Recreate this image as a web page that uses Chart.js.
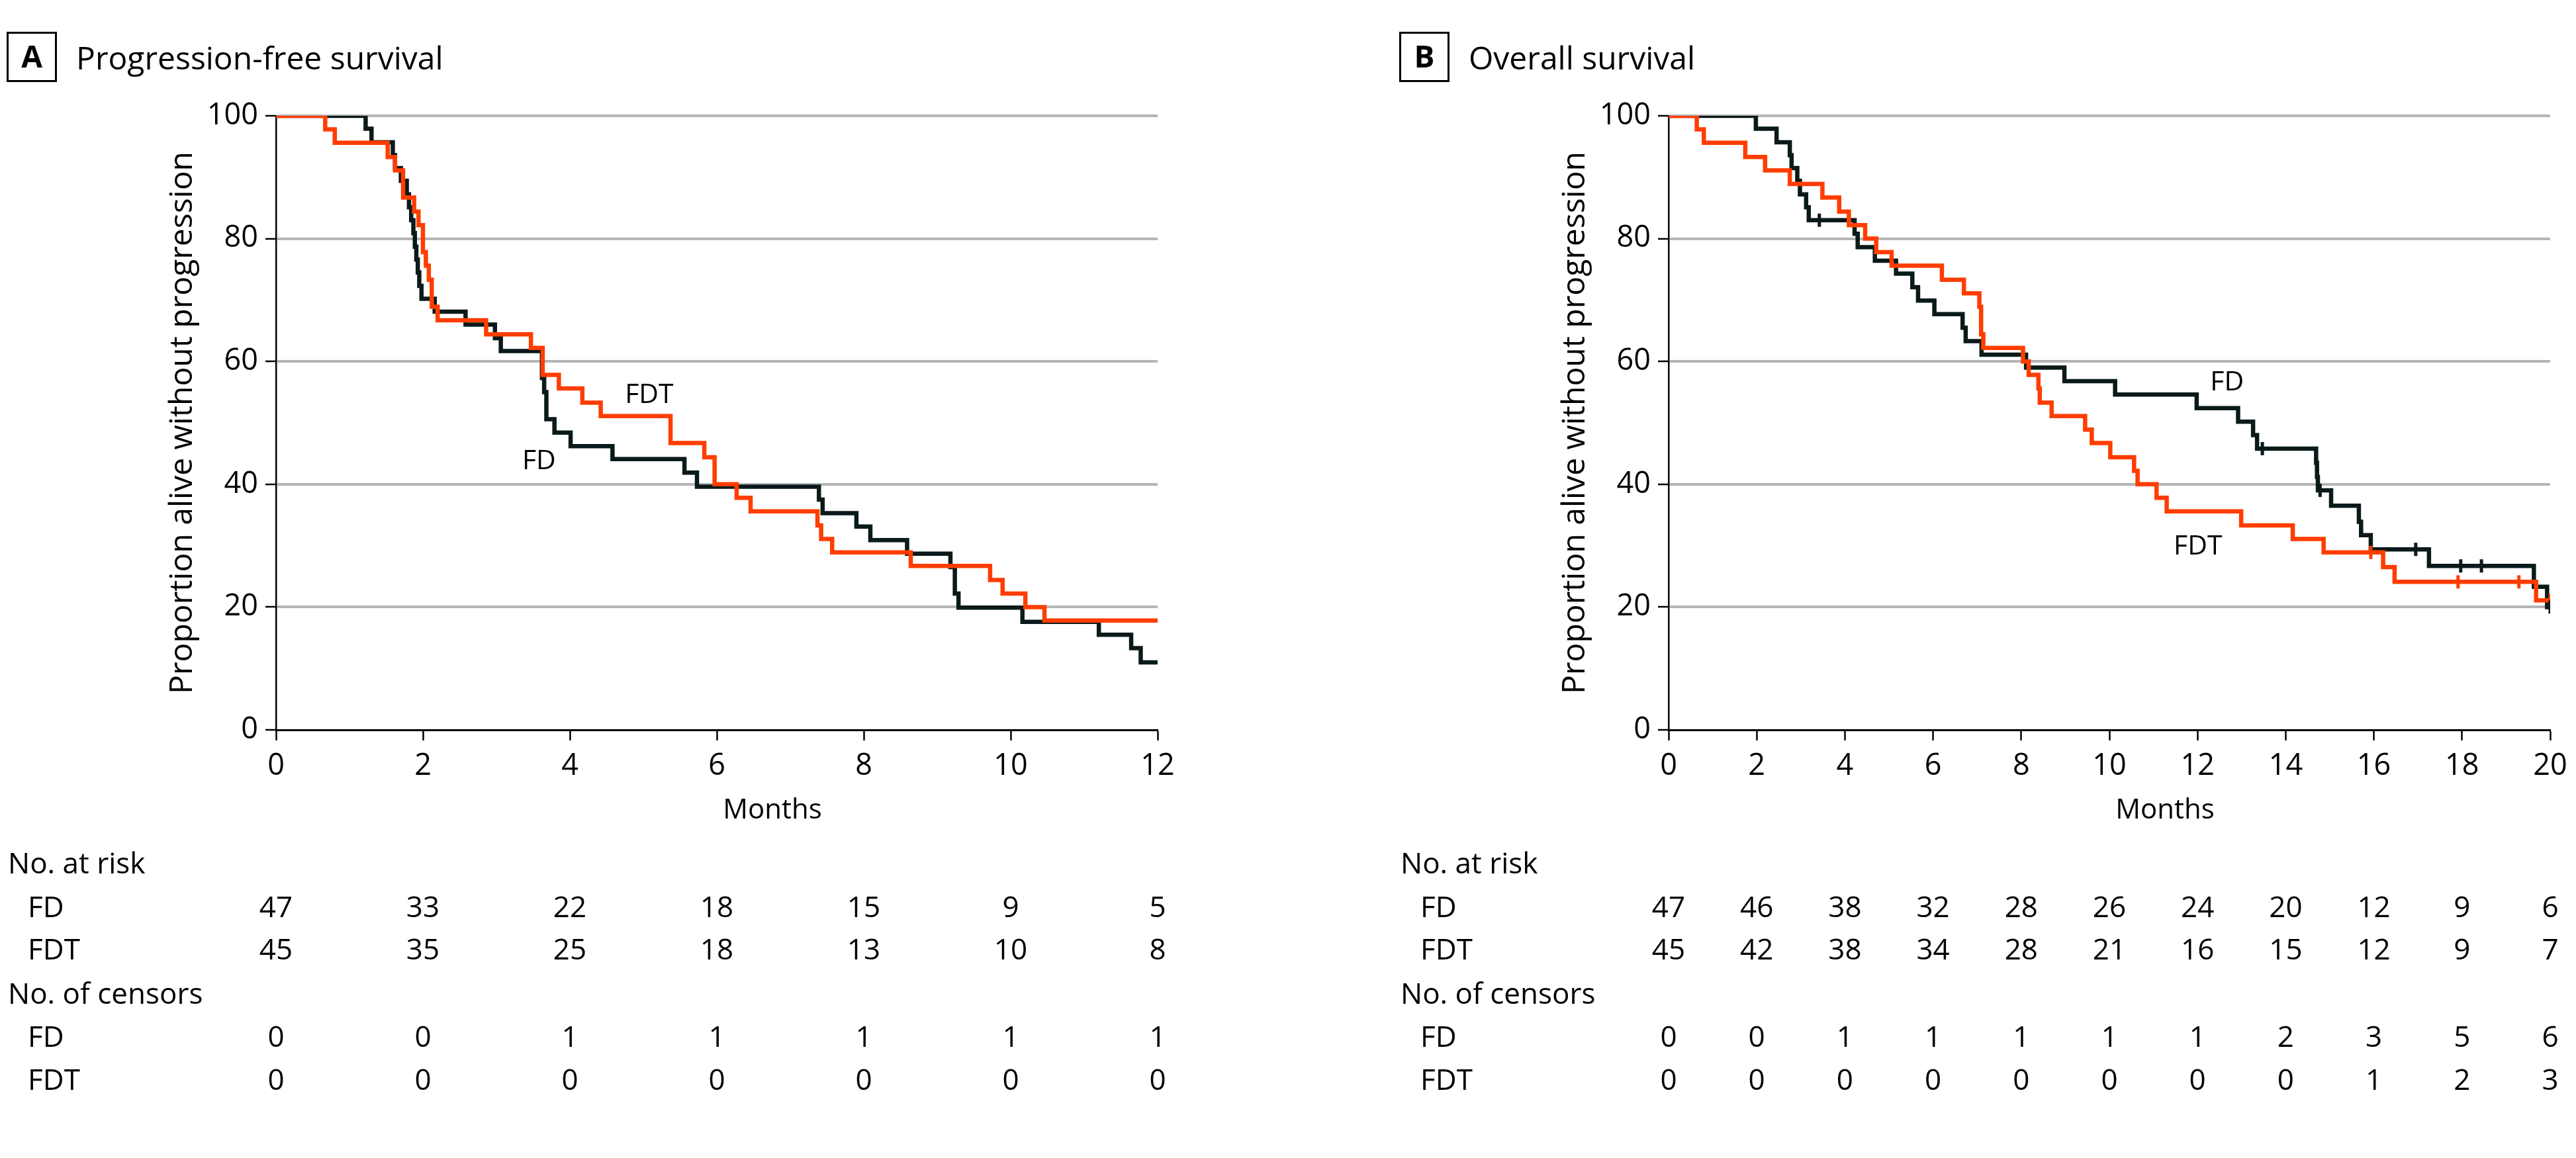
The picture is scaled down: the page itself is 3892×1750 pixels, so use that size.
<!DOCTYPE html>
<html><head><meta charset="utf-8">
<script src="https://cdn.jsdelivr.net/npm/chart.js@4.4.1/dist/chart.umd.min.js"></script>
<style>
html,body{margin:0;padding:0;background:#fff;}
#wrap{position:relative;width:3892px;height:1750px;overflow:hidden;background:#fff;}
canvas{position:absolute;top:0;}
#cA{left:0;width:2104px;height:1750px;}
#cB{left:2104px;width:1788px;height:1750px;}
</style></head><body>
<div id="wrap"><canvas id="cA" width="2104" height="1750"></canvas><canvas id="cB" width="1788" height="1750"></canvas></div>
<script>
// ---------- DATA ----------
// Panel A: progression-free survival (months, % alive without progression)
const pfsTicks = [0, 2, 4, 6, 8, 10, 12];
const pfsFD_t = [0, 1.22, 1.30, 1.59, 1.62, 1.70, 1.78, 1.81, 1.84, 1.87, 1.89, 1.91, 1.93, 1.95, 1.98, 2.16, 2.58, 2.98, 3.06, 3.62, 3.65, 3.68, 3.79, 4.01, 4.58, 5.56, 5.73, 7.39, 7.44, 7.90, 8.09, 8.59, 9.18, 9.24, 9.29, 10.16, 11.20, 11.64, 11.77, 12];
const pfsFD_s = [100, 97.9, 95.7, 93.6, 91.5, 89.4, 87.2, 85.1, 83.0, 80.9, 78.7, 76.6, 74.5, 72.3, 70.2, 68.1, 66.0, 63.8, 61.7, 57.3, 55.0, 50.6, 48.4, 46.2, 44.1, 41.9, 39.6, 37.5, 35.3, 33.1, 30.9, 28.7, 26.5, 22.2, 19.9, 17.6, 15.5, 13.3, 11.0, 11.0];
const pfsFDT_t = [0, 0.67, 0.80, 1.52, 1.62, 1.73, 1.88, 1.94, 2.00, 2.04, 2.08, 2.12, 2.20, 2.86, 3.47, 3.63, 3.85, 4.17, 4.42, 5.37, 5.83, 5.97, 6.27, 6.46, 7.37, 7.42, 7.57, 8.64, 9.72, 9.89, 10.20, 10.46, 12];
const pfsFDT_s = [100, 97.8, 95.6, 93.3, 91.1, 86.7, 84.4, 82.2, 77.8, 75.6, 73.3, 68.9, 66.7, 64.4, 62.2, 57.8, 55.6, 53.3, 51.1, 46.7, 44.4, 40.0, 37.8, 35.6, 33.3, 31.1, 28.9, 26.7, 24.4, 22.2, 20.0, 17.8, 17.8];
const pfsRiskFD = [47, 33, 22, 18, 15, 9, 5];
const pfsRiskFDT = [45, 35, 25, 18, 13, 10, 8];
const pfsCensFD = [0, 0, 1, 1, 1, 1, 1];
const pfsCensFDT = [0, 0, 0, 0, 0, 0, 0];

// Panel B: overall survival
const osTicks = [0, 2, 4, 6, 8, 10, 12, 14, 16, 18, 20];
const osFD_t = [0, 1.98, 2.45, 2.75, 2.79, 2.92, 2.98, 3.12, 3.18, 4.22, 4.29, 4.68, 5.16, 5.53, 5.66, 6.03, 6.67, 6.74, 7.10, 8.11, 8.98, 10.13, 11.98, 12.92, 13.26, 13.35, 14.69, 14.71, 14.73, 15.03, 15.66, 15.71, 15.93, 17.25, 19.63, 19.93, 20];
const osFD_s = [100, 97.9, 95.7, 93.6, 91.5, 89.4, 87.2, 85.1, 83.0, 80.8, 78.6, 76.4, 74.3, 72.1, 69.9, 67.7, 65.5, 63.3, 61.1, 59.0, 56.8, 54.6, 52.4, 50.2, 48.0, 45.8, 43.5, 41.2, 39.0, 36.5, 33.9, 31.7, 29.4, 26.7, 23.3, 20.0, 20.0];
const osFD_censor = [3.42, 13.47, 14.78, 16.95, 17.97, 18.44, 20.0];
const osFDT_t = [0, 0.64, 0.80, 1.74, 2.19, 2.75, 3.49, 3.87, 4.09, 4.46, 4.71, 5.06, 6.20, 6.70, 7.05, 7.09, 7.14, 8.04, 8.17, 8.39, 8.42, 8.69, 9.45, 9.60, 10.02, 10.56, 10.64, 11.07, 11.30, 12.99, 14.16, 14.86, 16.21, 16.47, 19.68, 20];
const osFDT_s = [100, 97.8, 95.6, 93.3, 91.1, 88.9, 86.7, 84.4, 82.2, 80.0, 77.8, 75.6, 73.3, 71.1, 68.9, 64.4, 62.2, 60.0, 57.8, 55.6, 53.3, 51.1, 48.9, 46.7, 44.4, 42.2, 40.0, 37.8, 35.6, 33.3, 31.1, 28.9, 26.5, 24.1, 21.1, 21.1];
const osFDT_censor = [15.93, 17.91, 19.29, 20.0];
const osRiskFD = [47, 46, 38, 32, 28, 26, 24, 20, 12, 9, 6];
const osRiskFDT = [45, 42, 38, 34, 28, 21, 16, 15, 12, 9, 7];
const osCensFD = [0, 0, 1, 1, 1, 1, 1, 2, 3, 5, 6];
const osCensFDT = [0, 0, 0, 0, 0, 0, 0, 0, 1, 2, 3];

const yTicks = [0, 20, 40, 60, 80, 100];

// ---------- STYLE ----------
const FONT = "'Open Sans', 'Noto Sans', 'DejaVu Sans', sans-serif";
const W = 500;
const COL_FD = '#0a1a1a';
const COL_FDT = '#ff3d00';
const GRID = '#b5b5b5';

function toPts(ts, ss) { return ts.map((t, i) => ({ x: t, y: ss[i] })); }
function levelAt(ts, ss, t) { let v = ss[0]; for (let i = 0; i < ts.length; i++) if (ts[i] <= t) v = ss[i]; return v; }
function censorPts(ts, ss, cs) { return cs.map(t => ({ x: t, y: levelAt(ts, ss, t) })); }

const decor = {
  id: 'kmDecor',
  afterDraw(chart, args, o) {
    const ctx = chart.ctx, xs = chart.scales.x, ys = chart.scales.y, ca = chart.chartArea;
    ctx.save();
    ctx.fillStyle = '#000'; ctx.strokeStyle = '#000';
    // panel letter box + title
    ctx.lineWidth = 3;
    ctx.strokeRect(11.5, 49.5, 73, 73);
    ctx.font = `bold 46px ${FONT}`; ctx.textAlign = 'center'; ctx.textBaseline = 'alphabetic';
    ctx.fillText(o.letter, 48, 102);
    ctx.font = `${W} 48px ${FONT}`; ctx.textAlign = 'left';
    ctx.fillText(o.title, 115, 105);
    // y axis title
    ctx.save();
    ctx.translate(276, (ca.top + ca.bottom) / 2);
    ctx.rotate(-Math.PI / 2);
    ctx.textAlign = 'center'; ctx.textBaseline = 'middle';
    ctx.font = `${W} 48px ${FONT}`;
    ctx.fillText('Proportion alive without progression', 0, 0);
    ctx.restore();
    // x axis title
    ctx.font = `${W} 42px ${FONT}`; ctx.textAlign = 'center'; ctx.textBaseline = 'alphabetic';
    ctx.fillText('Months', (ca.left + ca.right) / 2 + 84, 1237);
    // in-plot curve labels
    ctx.font = `${W} 41px ${FONT}`;
    o.labels.forEach(l => ctx.fillText(l.text, xs.getPixelForValue(l.x), ys.getPixelForValue(l.y) + 15));
    // risk table
    ctx.font = `${W} 44px ${FONT}`;
    const rows = [
      { label: 'No. at risk', lx: 12, base: 1320 },
      { label: 'FD', lx: 42, base: 1386, vals: o.riskFD },
      { label: 'FDT', lx: 42, base: 1450, vals: o.riskFDT },
      { label: 'No. of censors', lx: 12, base: 1517 },
      { label: 'FD', lx: 42, base: 1582, vals: o.censFD },
      { label: 'FDT', lx: 42, base: 1647, vals: o.censFDT }
    ];
    rows.forEach(r => {
      ctx.textAlign = 'left';
      ctx.fillText(r.label, r.lx, r.base);
      if (r.vals) {
        ctx.textAlign = 'center';
        r.vals.forEach((v, i) => ctx.fillText(String(v), xs.getPixelForValue(o.ticks[i]), r.base));
      }
    });
    ctx.restore();
  }
};

function makeChart(id, canvasW, xMax, ticks, fdT, fdS, fdtT, fdtS, fdCens, fdtCens, decorOpts) {
  const datasets = [
    { data: toPts(fdtT, fdtS), borderColor: COL_FDT, borderWidth: 6.5, stepped: 'before', pointRadius: 0, fill: false, order: 1, borderCapStyle: 'butt', borderJoinStyle: 'miter' },
    { data: toPts(fdT, fdS), borderColor: COL_FD, borderWidth: 6.5, stepped: 'before', pointRadius: 0, fill: false, order: 2, borderCapStyle: 'butt', borderJoinStyle: 'miter' }
  ];
  if (fdCens) datasets.push({ data: censorPts(fdT, fdS, fdCens), showLine: false, pointStyle: 'line', rotation: 90, pointRadius: 10, pointBorderWidth: 5, pointBorderColor: COL_FD, borderColor: COL_FD, order: 0 });
  if (fdtCens) datasets.push({ data: censorPts(fdtT, fdtS, fdtCens), showLine: false, pointStyle: 'line', rotation: 90, pointRadius: 10, pointBorderWidth: 5, pointBorderColor: COL_FDT, borderColor: COL_FDT, order: 0 });
  return new Chart(document.getElementById(id), {
    type: 'line',
    data: { datasets },
    plugins: [decor],
    options: {
      responsive: false, devicePixelRatio: 1, animation: false, events: [],
      layout: { padding: { left: 0, top: 175, right: canvasW - 1749, bottom: 1750 - 1103 - 100 } },
      plugins: { legend: { display: false }, tooltip: { enabled: false }, kmDecor: decorOpts },
      scales: {
        x: {
          type: 'linear', min: 0, max: xMax,
          afterBuildTicks: s => { s.ticks = ticks.map(v => ({ value: v })); },
          ticks: { font: { size: 45, family: FONT, weight: W }, color: '#000', padding: 12, maxRotation: 0, autoSkip: false },
          grid: { drawOnChartArea: false, drawTicks: true, tickLength: 16, tickColor: '#000', tickWidth: 2.5 },
          border: { display: true, color: '#000', width: 3 },
          afterFit: s => { s.height = 100; }
        },
        y: {
          min: 0, max: 100,
          afterBuildTicks: s => { s.ticks = yTicks.map(v => ({ value: v })); },
          ticks: { font: { size: 45, family: FONT, weight: W }, color: '#000', padding: 11 },
          grid: { color: c => (c.tick && c.tick.value === 0) ? 'rgba(0,0,0,0)' : GRID, lineWidth: 4, drawTicks: true, tickLength: 16, tickColor: '#000', tickWidth: 2.5 },
          border: { display: true, color: '#000', width: 2.5 },
          afterFit: s => { s.width = 417; }
        }
      }
    }
  });
}

makeChart('cA', 2104, 12, pfsTicks, pfsFD_t, pfsFD_s, pfsFDT_t, pfsFDT_s, null, null, {
  letter: 'A', title: 'Progression-free survival', ticks: pfsTicks,
  riskFD: pfsRiskFD, riskFDT: pfsRiskFDT, censFD: pfsCensFD, censFDT: pfsCensFDT,
  labels: [{ text: 'FDT', x: 5.08, y: 54.8 }, { text: 'FD', x: 3.58, y: 44.1 }]
});
makeChart('cB', 1788, 20, osTicks, osFD_t, osFD_s, osFDT_t, osFDT_s, osFD_censor, osFDT_censor, {
  letter: 'B', title: 'Overall survival', ticks: osTicks,
  riskFD: osRiskFD, riskFDT: osRiskFDT, censFD: osCensFD, censFDT: osCensFDT,
  labels: [{ text: 'FD', x: 12.67, y: 56.9 }, { text: 'FDT', x: 12.01, y: 30.2 }]
});
</script>
</body></html>
